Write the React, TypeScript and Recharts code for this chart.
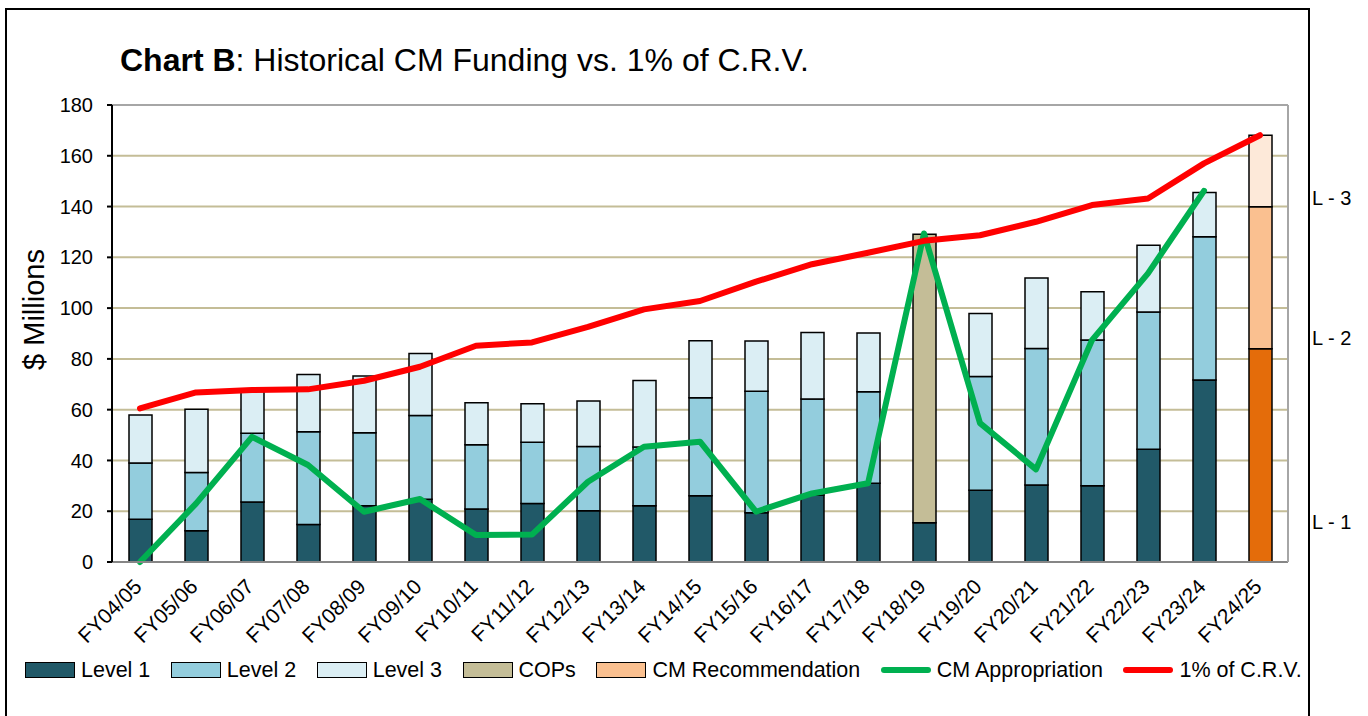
import {
  ComposedChart,
  Bar,
  Line,
  XAxis,
  YAxis,
  CartesianGrid,
  ReferenceLine,
  Legend,
} from 'recharts';

const years = [
  'FY04/05', 'FY05/06', 'FY06/07', 'FY07/08', 'FY08/09', 'FY09/10', 'FY10/11',
  'FY11/12', 'FY12/13', 'FY13/14', 'FY14/15', 'FY15/16', 'FY16/17', 'FY17/18',
  'FY18/19', 'FY19/20', 'FY20/21', 'FY21/22', 'FY22/23', 'FY23/24', 'FY24/25',
];

// stacked bar segments ($ millions)
const level1 = [16.8, 12.3, 23.6, 14.8, 22.2, 24.7, 20.9, 23, 20.2, 22.2, 26.1, 19.4, 26.4, 31, 15.5, 28.3, 30.3, 30, 44.4, 71.7, null];
const level2 = [22.2, 23, 27.1, 36.5, 28.7, 33, 25.3, 24.2, 25.3, 23.1, 38.6, 47.9, 37.8, 36.1, null, 44.8, 53.8, 57.4, 54.1, 56.4, null];
const level3 = [18.9, 24.9, 16.5, 22.6, 22.4, 24.4, 16.5, 15.1, 17.9, 26.2, 22.4, 19.7, 26.2, 23.1, null, 24.8, 27.8, 19, 26.3, 17.4, null];
const cops = [null, null, null, null, null, null, null, null, null, null, null, null, null, null, 113.6, null, null, null, null, null, null];
const recLevel1 = [null, null, null, null, null, null, null, null, null, null, null, null, null, null, null, null, null, null, null, null, 84];
const recLevel2 = [null, null, null, null, null, null, null, null, null, null, null, null, null, null, null, null, null, null, null, null, 55.9];
const recLevel3 = [null, null, null, null, null, null, null, null, null, null, null, null, null, null, null, null, null, null, null, null, 28.2];

// lines
const cmAppropriation = [0, 23, 49.3, 38.2, 19.8, 24.8, 10.6, 10.8, 31.6, 45.4, 47.4, 19.8, 27, 31, 129.4, 54.7, 36.5, 87.4, 113.7, 146.2, null];
const crvOnePct = [60.5, 66.8, 67.7, 68, 71.4, 76.9, 85.2, 86.5, 92.6, 99.5, 102.8, 110.4, 117.3, 121.8, 126.5, 128.7, 134, 140.6, 143.2, 157, 168.1];

const yTicks = [0, 20, 40, 60, 80, 100, 120, 140, 160, 180];
const levelTicks = [15.7, 88.2, 143.3];
const levelTickNames = ['L - 1', 'L - 2', 'L - 3'];

const data = years.map((year, i) => ({
  year,
  level1: level1[i],
  level2: level2[i],
  level3: level3[i],
  cops: cops[i],
  recLevel1: recLevel1[i],
  recLevel2: recLevel2[i],
  recLevel3: recLevel3[i],
  cmAppropriation: cmAppropriation[i],
  crvOnePct: crvOnePct[i],
}));

const FONT = '"Liberation Sans", Arial, sans-serif';

const legendItems = [
  { name: 'Level 1', color: '#215968', type: 'rect' },
  { name: 'Level 2', color: '#93CDDD', type: 'rect' },
  { name: 'Level 3', color: '#DBEEF4', type: 'rect' },
  { name: 'COPs', color: '#C4BD97', type: 'rect' },
  { name: 'CM Recommendation', color: '#FAC090', type: 'rect' },
  { name: 'CM Appropriation', color: '#00B050', type: 'line' },
  { name: '1% of C.R.V.', color: '#FF0000', type: 'line' },
];

function LegendContent() {
  return (
    <div style={{ display: 'flex', alignItems: 'center', height: 30, paddingLeft: 25, fontFamily: FONT, fontSize: 21.5 }}>
      {legendItems.map(it => (
        <div key={it.name} style={{ display: 'flex', alignItems: 'center', marginRight: 20.5 }}>
          {it.type === 'rect' ? (
            <div style={{ width: 50, height: 16, background: it.color, border: '1.5px solid #000', boxSizing: 'border-box' }} />
          ) : (
            <div style={{ width: 50, height: 6, background: it.color, borderRadius: 3 }} />
          )}
          <span style={{ marginLeft: 6 }}>{it.name}</span>
        </div>
      ))}
    </div>
  );
}

function XTick(props: any) {
  const { x, y, payload } = props;
  const ax = x + 3;
  const ay = y + 18;
  return (
    <text
      x={ax}
      y={ay}
      transform={`rotate(-45 ${ax} ${ay})`}
      textAnchor="end"
      fontSize={21}
      fontFamily={FONT}
      fill="#000"
    >
      {payload.value}
    </text>
  );
}

function LevelTick(props: any) {
  const { x, y, payload } = props;
  const idx = levelTicks.indexOf(payload.value);
  return (
    <text x={x} y={y} dy={7} textAnchor="start" fontSize={20} fontFamily={FONT} fill="#000">
      {idx >= 0 ? levelTickNames[idx] : ''}
    </text>
  );
}

export default function App() {
  return (
    <div style={{ position: 'absolute', left: 0, top: 0, width: 1368, height: 716, background: '#fff', overflow: 'hidden' }}>
      <div style={{ position: 'absolute', left: 5, top: 8, width: 1301, height: 720, border: '2px solid #000', borderBottom: 'none' }} />
      <div style={{ position: 'absolute', left: 120, top: 42, fontFamily: FONT, fontSize: 32, color: '#000', whiteSpace: 'nowrap' }}>
        <b>Chart B</b>: Historical CM Funding vs. 1% of C.R.V.
      </div>
      <div style={{ position: 'absolute', left: 0, top: 0 }}>
        <ComposedChart
          width={1368}
          height={716}
          data={data}
          margin={{ top: 105, right: 20, bottom: 34, left: 12 }}
          barCategoryGap={0}
        >
          <CartesianGrid yAxisId="left" vertical={false} stroke="#C4BD97" strokeWidth={2} />
          <XAxis
            dataKey="year"
            height={90}
            interval={0}
            axisLine={{ stroke: '#868686', strokeWidth: 2 }}
            tickLine={false}
            tick={<XTick />}
          />
          <YAxis
            yAxisId="left"
            width={100}
            domain={[0, 180]}
            ticks={yTicks}
            interval={0}
            axisLine={{ stroke: '#000', strokeWidth: 2 }}
            tickLine={{ stroke: '#000', strokeWidth: 2 }}
            tickSize={5}
            tickMargin={14}
            tick={{ fill: '#000', fontSize: 20, fontFamily: FONT }}
            label={{
              value: '$ Millions',
              angle: -90,
              position: 'insideLeft',
              dx: 17,
              dy: -24,
              style: { textAnchor: 'middle', fontSize: 29, fontFamily: FONT, fill: '#000' },
            }}
          />
          <YAxis
            yAxisId="right"
            orientation="right"
            width={60}
            domain={[0, 180]}
            ticks={levelTicks}
            interval={0}
            axisLine={{ stroke: '#A6A6A6', strokeWidth: 2 }}
            tickLine={false}
            tickSize={6}
            tickMargin={18}
            tick={<LevelTick />}
          />
          <ReferenceLine yAxisId="left" y={180} stroke="#A6A6A6" strokeWidth={2} />
          <Legend
            verticalAlign="bottom"
            content={<LegendContent />}
            wrapperStyle={{ position: 'absolute', left: 0, top: 655, width: 1368, height: 30, bottom: 'auto' }}
          />

          <Bar yAxisId="left" dataKey="level1" name="Level 1" stackId="a" fill="#215968" stroke="#000" strokeWidth={1.5} barSize={23} isAnimationActive={false} legendType="none" />
          <Bar yAxisId="left" dataKey="level2" name="Level 2" stackId="a" fill="#93CDDD" stroke="#000" strokeWidth={1.5} barSize={23} isAnimationActive={false} legendType="none" />
          <Bar yAxisId="left" dataKey="level3" name="Level 3" stackId="a" fill="#DBEEF4" stroke="#000" strokeWidth={1.5} barSize={23} isAnimationActive={false} legendType="none" />
          <Bar yAxisId="left" dataKey="cops" name="COPs" stackId="a" fill="#C4BD97" stroke="#000" strokeWidth={1.5} barSize={23} isAnimationActive={false} legendType="none" />
          <Bar yAxisId="left" dataKey="recLevel1" name="CM Recommendation L1" stackId="a" fill="#E46C0A" stroke="#000" strokeWidth={1.5} barSize={23} isAnimationActive={false} legendType="none" />
          <Bar yAxisId="left" dataKey="recLevel2" name="CM Recommendation" stackId="a" fill="#FAC090" stroke="#000" strokeWidth={1.5} barSize={23} isAnimationActive={false} legendType="none" />
          <Bar yAxisId="left" dataKey="recLevel3" name="CM Recommendation L3" stackId="a" fill="#FDE9D9" stroke="#000" strokeWidth={1.5} barSize={23} isAnimationActive={false} legendType="none" />

          <Line
            yAxisId="left"
            type="linear"
            dataKey="cmAppropriation"
            name="CM Appropriation"
            stroke="#00B050"
            strokeWidth={6}
            strokeLinecap="round"
            strokeLinejoin="round"
            dot={false}
            activeDot={false}
            isAnimationActive={false}
          />
          <Line
            yAxisId="right"
            type="linear"
            dataKey="crvOnePct"
            name="1% of C.R.V."
            stroke="#FF0000"
            strokeWidth={6}
            strokeLinecap="round"
            strokeLinejoin="round"
            dot={false}
            activeDot={false}
            isAnimationActive={false}
          />
        </ComposedChart>
      </div>
    </div>
  );
}
